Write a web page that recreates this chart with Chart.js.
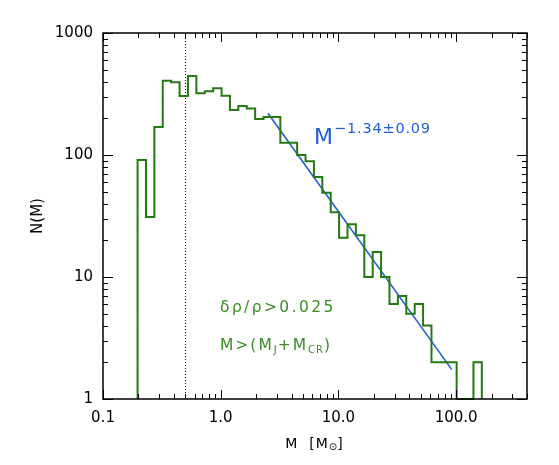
<!DOCTYPE html>
<html>
<head>
<meta charset="utf-8">
<script src="https://cdn.jsdelivr.net/npm/chart.js@4/dist/chart.umd.min.js"></script>
<style>
html,body{margin:0;padding:0;background:#fff;}
#wrap{position:relative;width:559px;height:465px;}
</style>
</head>
<body>
<div id="wrap"><canvas id="c" width="559" height="465"></canvas></div>
<script>
// ---- data ----
// histogram bin edges (M, solar masses) and counts per bin
const binEdges = [0.1967, 0.2318, 0.2731, 0.3219, 0.3794, 0.4471, 0.5269, 0.6210, 0.7318, 0.8626,
                  1.017, 1.198, 1.412, 1.664, 1.961, 2.311, 2.724, 3.210, 3.783, 4.459,
                  5.254, 6.193, 7.298, 8.600, 10.13, 11.94, 14.07, 16.59, 19.55, 23.04,
                  27.15, 32.00, 37.71, 44.45, 52.38, 61.73, 72.75, 85.74, 101.0, 119.1,
                  140.3, 165.3];
const counts = [91, 31, 170, 406, 394, 305, 444, 321, 333, 352,
                306, 234, 252, 240, 197, 205, 205, 126, 126, 100,
                89, 66, 49, 34, 21, 27, 22, 10, 16, 10,
                6, 7, 5, 6, 4, 2, 2, 2, 0, 0,
                2];
// power-law fit line end points
const fitMass = [2.52, 91.6];
const fitN = [220, 1.75];
// vertical dotted marker
const cutMass = 0.5;
// axis ranges and tick labels
const xRange = [0.1, 400];
const yRange = [1, 1000];
const xTickValues = [0.1, 1, 10, 100];
const xTickLabels = ['0.1', '1.0', '10.0', '100.0'];
const yTickValues = [1, 10, 100, 1000];
const yTickLabels = ['1', '10', '100', '1000'];

// ---- style ----
const GREEN = '#247a12';
const GREEN_TXT = '#3a8d24';
const BLUE = '#1f5fd2';
const FONT = '"DejaVu Sans", sans-serif';

// histogram step points (empty bins sit on the axis floor)
const histPoints = [{x: binEdges[0], y: yRange[0]}];
counts.forEach((c, i) => histPoints.push({x: binEdges[i], y: c > 0 ? c : yRange[0]}));
histPoints.push({x: binEdges[binEdges.length - 1], y: yRange[0]});
const fitPoints = fitMass.map((m, i) => ({x: m, y: fitN[i]}));

function minorValues(min, max) {
  const out = [];
  for (let k = Math.floor(Math.log10(min)); k <= Math.ceil(Math.log10(max)); k++) {
    for (let m = 1; m <= 9; m++) {
      const v = m * Math.pow(10, k);
      if (v >= min * 0.9999 && v <= max * 1.0001) out.push({v, major: m === 1});
    }
  }
  return out;
}

function drawRich(ctx, x, y, parts, color) {
  ctx.save();
  ctx.fillStyle = color;
  ctx.textBaseline = 'alphabetic';
  ctx.textAlign = 'left';
  let cx = x;
  for (const p of parts) {
    ctx.font = p.size + 'px ' + FONT;
    ctx.letterSpacing = (p.ls || 0) + 'px';
    ctx.fillText(p.t, cx, y + (p.dy || 0));
    cx += ctx.measureText(p.t).width;
  }
  ctx.restore();
  return cx - x;
}

const decor = {
  id: 'decor',
  beforeDatasetsDraw(chart) {
    const {ctx, chartArea: a, scales: {x}} = chart;
    const px = x.getPixelForValue(cutMass);
    ctx.save();
    ctx.strokeStyle = '#000';
    ctx.lineWidth = 1;
    ctx.setLineDash([1, 2]);
    ctx.beginPath();
    ctx.moveTo(Math.round(px) + 0.5, a.bottom);
    ctx.lineTo(Math.round(px) + 0.5, a.top);
    ctx.stroke();
    ctx.restore();
  },
  afterDraw(chart) {
    const {ctx, chartArea: a, scales: {x, y}} = chart;
    ctx.save();
    ctx.strokeStyle = '#000';
    ctx.lineWidth = 1.5;
    ctx.strokeRect(a.left, a.top, a.right - a.left, a.bottom - a.top);
    ctx.lineWidth = 1;
    ctx.beginPath();
    for (const t of minorValues(xRange[0], xRange[1])) {
      const p = Math.round(x.getPixelForValue(t.v)) + 0.5;
      const L = t.major ? 9 : 5;
      ctx.moveTo(p, a.bottom); ctx.lineTo(p, a.bottom - L);
      ctx.moveTo(p, a.top); ctx.lineTo(p, a.top + L);
    }
    for (const t of minorValues(yRange[0], yRange[1])) {
      const p = Math.round(y.getPixelForValue(t.v)) + 0.5;
      const L = t.major ? 10 : 5;
      ctx.moveTo(a.left, p); ctx.lineTo(a.left + L, p);
      ctx.moveTo(a.right, p); ctx.lineTo(a.right - L, p);
    }
    ctx.stroke();
    ctx.restore();

    // fit annotation
    drawRich(ctx, 314, 144, [{t: 'M', size: 22}], BLUE);
    drawRich(ctx, 334, 133, [{t: '\u22121.34\u00b10.09', size: 14.5, ls: 0.8}], BLUE);
    // selection annotations
    drawRich(ctx, 220, 312, [{t: '\u03b4\u03c1/\u03c1>0.025', size: 15.5, ls: 2.4}], GREEN_TXT);
    drawRich(ctx, 220, 350, [
      {t: 'M>(M', size: 15.5, ls: 2},
      {t: 'J', size: 10, dy: 3, ls: 1},
      {t: '+M', size: 15.5, ls: 2},
      {t: 'CR', size: 10, dy: 3, ls: 1},
      {t: ')', size: 15.5}
    ], GREEN_TXT);

    // x-axis title with subscript
    ctx.save();
    ctx.font = '14px ' + FONT;
    ctx.letterSpacing = '1px';
    const w1 = ctx.measureText('M  [M').width;
    ctx.font = '10px ' + FONT;
    const w2 = ctx.measureText('\u2299').width;
    ctx.font = '14px ' + FONT;
    const w3 = ctx.measureText(']').width;
    ctx.restore();
    const tx = (a.left + a.right) / 2 - (w1 + w2 + w3) / 2;
    drawRich(ctx, tx, 448, [
      {t: 'M  [M', size: 14, ls: 1},
      {t: '\u2299', size: 10, dy: 2},
      {t: ']', size: 14, ls: 1}
    ], '#000');
  }
};

function labelFor(values, labels, v) {
  for (let i = 0; i < values.length; i++) {
    if (Math.abs(Math.log10(v) - Math.log10(values[i])) < 1e-6) return labels[i];
  }
  return '';
}

new Chart(document.getElementById('c'), {
  type: 'line',
  data: {
    datasets: [
      {
        label: 'N(M)',
        data: histPoints,
        stepped: 'before',
        borderColor: GREEN,
        borderWidth: 2,
        pointRadius: 0,
        fill: false,
        clip: false,
        borderJoinStyle: 'miter'
      },
      {
        label: 'fit',
        data: fitPoints,
        borderColor: BLUE,
        borderWidth: 1.6,
        pointRadius: 0,
        fill: false
      }
    ]
  },
  options: {
    responsive: false,
    animation: false,
    layout: {padding: {top: 33, right: 32, left: 0, bottom: 0}},
    plugins: {legend: {display: false}, tooltip: {enabled: false}},
    scales: {
      x: {
        type: 'logarithmic',
        position: 'bottom',
        min: xRange[0],
        max: xRange[1],
        grid: {display: false, drawTicks: false},
        border: {display: false},
        afterBuildTicks: s => { s.ticks = xTickValues.map(v => ({value: v})); },
        afterFit: s => { s.height = 66; },
        ticks: {
          autoSkip: false,
          maxRotation: 0,
          padding: 10,
          color: '#000',
          font: {family: FONT, size: 15},
          callback: v => labelFor(xTickValues, xTickLabels, v)
        }
      },
      y: {
        type: 'logarithmic',
        position: 'left',
        min: yRange[0],
        max: yRange[1],
        grid: {display: false, drawTicks: false},
        border: {display: false},
        afterBuildTicks: s => { s.ticks = yTickValues.map(v => ({value: v})); },
        afterFit: s => { s.width = 103; },
        title: {
          display: true,
          text: 'N(M)',
          color: '#000',
          font: {family: FONT, size: 15},
          padding: {top: 29, bottom: 0}
        },
        ticks: {
          autoSkip: false,
          padding: 10,
          color: '#000',
          font: {family: FONT, size: 15},
          callback: v => labelFor(yTickValues, yTickLabels, v)
        }
      }
    }
  },
  plugins: [decor]
});
</script>
</body>
</html>
